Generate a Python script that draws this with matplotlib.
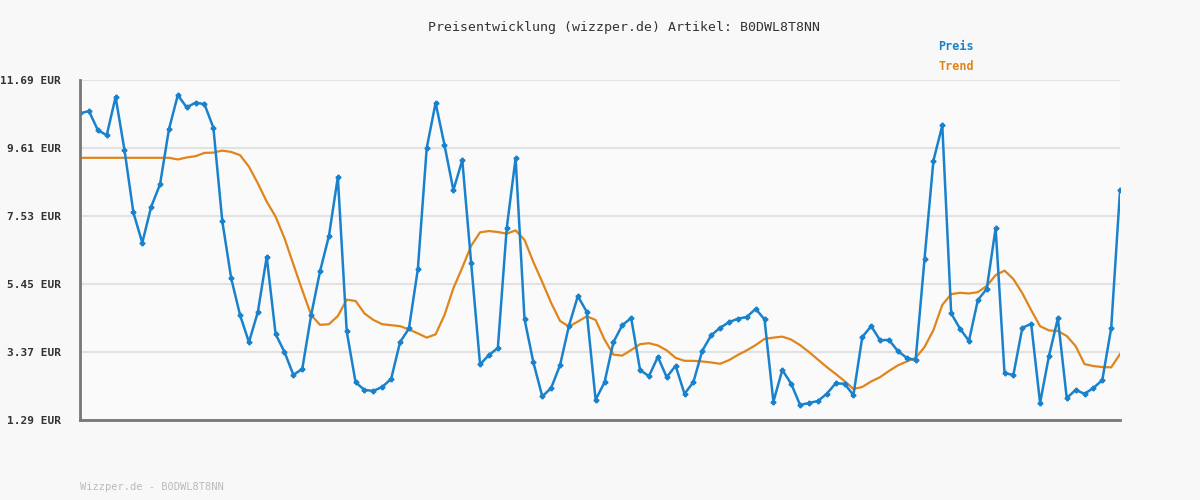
import numpy as np
import matplotlib.pyplot as plt

# price readings (EUR)
preis = [10.67, 10.74, 10.16, 10.00, 11.17, 9.55, 7.64, 6.71, 7.81, 8.50,
         10.18, 11.23, 10.85, 11.00, 10.95, 10.23, 7.38, 5.63, 4.50, 3.67,
         4.59, 6.28, 3.92, 3.37, 2.67, 2.85, 4.50, 5.84, 6.92, 8.72,
         4.00, 2.44, 2.21, 2.18, 2.30, 2.55, 3.67, 4.09, 5.90, 9.61,
         10.99, 9.70, 8.32, 9.24, 6.09, 2.99, 3.28, 3.49, 7.16, 9.30,
         4.38, 3.05, 2.01, 2.27, 2.97, 4.17, 5.08, 4.60, 1.91, 2.44,
         3.67, 4.19, 4.41, 2.82, 2.63, 3.22, 2.60, 2.95, 2.09, 2.45,
         3.41, 3.88, 4.11, 4.28, 4.39, 4.44, 4.69, 4.37, 1.85,
         2.82, 2.40, 1.75, 1.81, 1.87, 2.09, 2.41, 2.40, 2.05, 3.83,
         4.16, 3.73, 3.74, 3.40, 3.19, 3.12, 6.21, 9.22, 10.30, 4.55,
         4.08, 3.71, 4.96, 5.30, 7.16, 2.72, 2.67, 4.11, 4.23, 1.81,
         3.25, 4.40, 1.96, 2.21, 2.09, 2.27, 2.51, 4.10, 8.33]

trend = [9.31] * 11 + [
    9.26, 9.32, 9.36, 9.46, 9.47, 9.53, 9.49, 9.39, 9.04, 8.53,
    7.97, 7.51, 6.85, 6.05, 5.26, 4.50, 4.20, 4.22, 4.47, 4.97,
    4.93, 4.55, 4.35, 4.22, 4.19, 4.16, 4.06, 3.94, 3.81, 3.91,
    4.50, 5.32, 5.95, 6.62, 7.03, 7.07, 7.04, 6.99, 7.09, 6.80,
    6.12, 5.51, 4.87, 4.32, 4.15, 4.30, 4.46, 4.35, 3.75, 3.29,
    3.26, 3.43, 3.61, 3.64, 3.57, 3.42, 3.19, 3.10, 3.10, 3.08,
    3.05, 3.01, 3.12, 3.28, 3.42, 3.58, 3.77, 3.81, 3.84, 3.75,
    3.58, 3.37, 3.14, 2.91, 2.70, 2.48, 2.24, 2.30, 2.47, 2.60,
    2.79, 2.96, 3.08, 3.19, 3.52, 4.04, 4.81, 5.14, 5.18, 5.16,
    5.20, 5.39, 5.72, 5.86, 5.60, 5.17, 4.65, 4.16, 4.03, 4.01,
    3.86, 3.55, 3.00, 2.94, 2.91, 2.90, 3.31]

yticks = [1.29, 3.37, 5.45, 7.53, 9.61, 11.69]
ytick_labels = [f"{v:.2f} EUR" for v in yticks]

blue = '#1a82cc'
orange = '#e0851a'
mono = 'DejaVu Sans Mono'

fig = plt.figure(figsize=(12, 5), dpi=100, facecolor='#f8f8f8')
ax = fig.add_axes([0.0667, 0.16, 0.8667, 0.68], facecolor='#fafafa')

x = np.arange(len(preis))
xt = np.linspace(0, len(preis) - 1, len(trend))
ax.plot(xt, trend, color=orange, lw=1.6)
ax.plot(x, preis, color=blue, lw=1.8, marker='P', ms=3.2)

ax.set_xlim(0, len(preis) - 1)
ax.set_ylim(1.29, 11.69)
ax.set_yticks(yticks)
ax.set_yticklabels(ytick_labels, family=mono, fontsize=8, fontweight='bold', color='#333333')
ax.set_xticks([])
ax.tick_params(axis='y', length=0, pad=14)
ax.grid(axis='y', color='#e2e2e2', lw=1.5)
ax.set_axisbelow(True)
for s in ['top', 'right']:
    ax.spines[s].set_visible(False)
for s in ['left', 'bottom']:
    ax.spines[s].set_color('#777777')
    ax.spines[s].set_linewidth(2)

fig.text(0.52, 0.945, "Preisentwicklung (wizzper.de) Artikel: B0DWL8T8NN",
         ha='center', va='center', family=mono, fontsize=9.5, color='#333333')
fig.text(0.782, 0.907, "Preis", family=mono, fontsize=8.5, fontweight='bold', color=blue, va='center')
fig.text(0.782, 0.866, "Trend", family=mono, fontsize=8.5, fontweight='bold', color=orange, va='center')
fig.text(0.0667, 0.027, "Wizzper.de - B0DWL8T8NN", family=mono, fontsize=7.5, color='#bbbbbb', va='center')

fig.savefig('out.png', facecolor=fig.get_facecolor())
